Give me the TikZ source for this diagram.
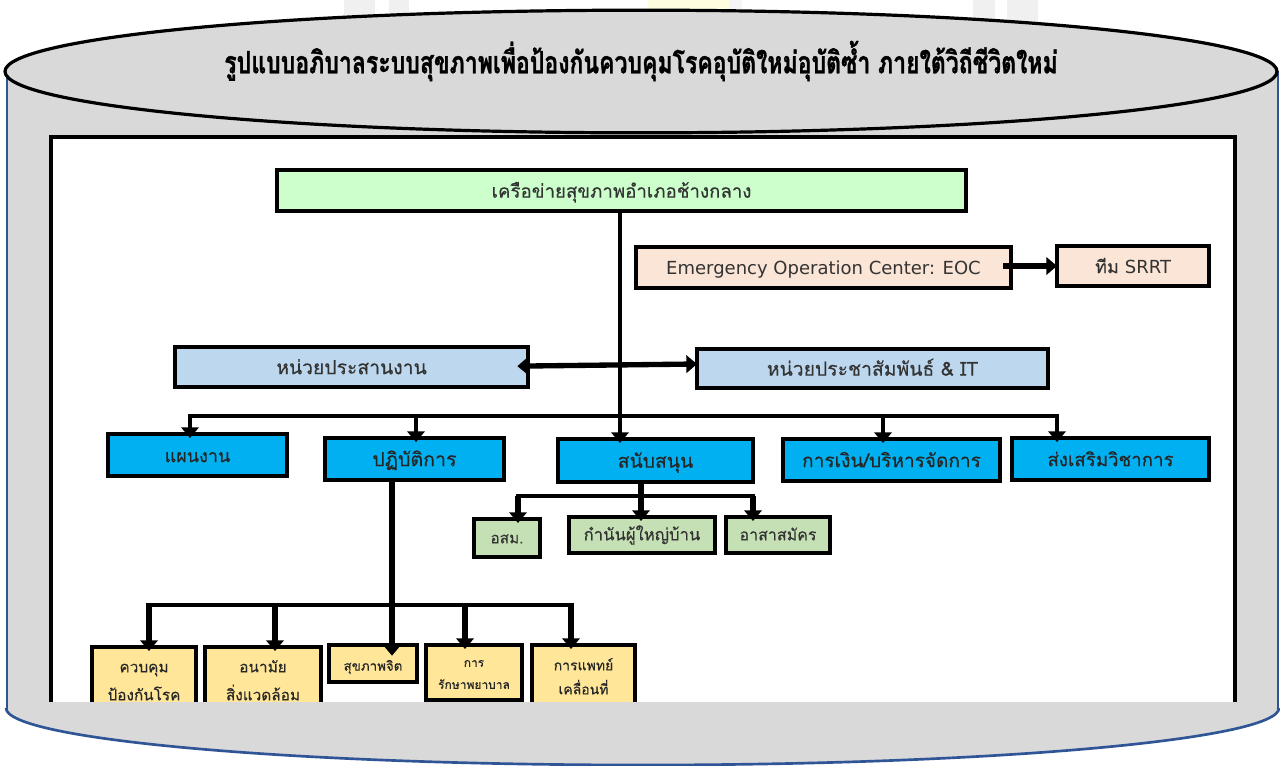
\documentclass[tikz,border=0pt]{standalone}
\usepackage{fontspec}
\setmainfont[Script=Thai,FakeBold=0.3,BoldFeatures={FakeBold=1.2}]{Loma}
\newfontfamily\latinfont{DejaVu Sans}
\usetikzlibrary{arrows.meta,shapes.geometric}
\definecolor{cylgray}{HTML}{D9D9D9}
\definecolor{cylblue}{HTML}{2F5597}
\definecolor{topgreen}{HTML}{CCFFCC}
\definecolor{peach}{HTML}{FBE5D6}
\definecolor{lightblue}{HTML}{BDD7EE}
\definecolor{cyanbox}{HTML}{00B0F0}
\definecolor{sage}{HTML}{C5E0B4}
\definecolor{sand}{HTML}{FFE699}
\definecolor{txtgray}{HTML}{333333}
\tikzset{
  orgbox/.style={draw=black,line width=3pt,rectangle,inner sep=0pt,outer sep=0pt,align=center},
  link/.style={draw=black,line width=#1,line cap=butt},
  link/.default=3.6pt,
  tiplink/.style={link=#1,-{Triangle[length=8pt,width=13pt]},shorten >=-3pt},
  tiplink/.default=3.6pt,
  f/.style={font=\fontsize{#1pt}{#1pt}\selectfont},
}
\newcommand{\dn}[1]{\raisebox{-5.4pt}[0pt][0pt]{#1}}
\newcommand{\dnb}[1]{\raisebox{-4pt}[0pt][0pt]{#1}}
% name, style, x1, y1, x2, y2, text (outer edges, in px)
\newcommand{\pxbox}[7]{%
  \pgfmathsetmacro{\bxw}{(#5-#3-4)*0.75}%
  \pgfmathsetmacro{\bxh}{(#6-#4-4)*0.75}%
  \pgfmathsetmacro{\bxx}{(#3+#5)/2}%
  \pgfmathsetmacro{\bxy}{(#4+#6)/2}%
  \node[orgbox,#2,minimum width=\bxw pt,minimum height=\bxh pt] (#1) at (\bxx,\bxy) {#7};%
}
\begin{document}
\begin{tikzpicture}[x=0.75pt,y=-0.75pt]
\useasboundingbox (0,0) rectangle (1280,765);
\clip (0,0) rectangle (1280,765);
% faint page watermark above the cylinder
\fill[black!6] (344,0) rectangle (375,30);
\fill[black!6] (389,0) rectangle (409,30);
\fill[yellow!12] (648,0) rectangle (729,30);
\fill[black!4] (729,0) rectangle (742,30);
\fill[black!6] (973,0) rectangle (995,30);
\fill[black!6] (1007,0) rectangle (1038,30);
% cylinder body
\fill[cylgray] (7,71) rectangle (1278,708);
\draw[cylblue,line width=2pt] (7,71) -- (7,708);
\draw[cylblue,line width=2pt] (1278,71) -- (1278,708);
% inner frame
\fill[white] (51,137) rectangle (1235,702);
\draw[black,line width=2.4pt] (51,702) -- (51,137) -- (1235,137) -- (1235,702);
% boxes
\pxbox{net}{fill=topgreen,text=txtgray,f=14}{275}{168}{968}{213}{\dn{เครือข่ายสุขภาพอำเภอช้างกลาง}}
\pxbox{eoc}{fill=peach,text=txtgray,f=13.5}{634}{245}{1013}{290}{\dn{\latinfont Emergency Operation Center: EOC}}
\pxbox{srrt}{fill=peach,text=txtgray,f=13.5}{1055}{244}{1211}{288}{\dn{ทีม {\latinfont SRRT}}}
\pxbox{coord}{fill=lightblue,text=txtgray,f=14.5}{173}{345}{530}{389}{\dn{หน่วยประสานงาน}}
\pxbox{pr}{fill=lightblue,text=txtgray,f=14.5}{695}{347}{1050}{390}{\dn{หน่วยประชาสัมพันธ์ \& IT}}
\pxbox{plan}{fill=cyanbox,text=black!85,f=13.5}{106}{432}{289}{478}{\dn{แผนงาน}}
\pxbox{ops}{fill=cyanbox,text=black!85,f=14.7}{323}{436}{506}{482}{\dn{ปฏิบัติการ}}
\pxbox{sup}{fill=cyanbox,text=black!85,f=14.5}{556}{437}{755}{484}{\dn{สนับสนุน}}
\pxbox{fin}{fill=cyanbox,text=black!85,f=14.3}{781}{437}{1002}{483}{\dn{การเงิน/บริหารจัดการ}}
\pxbox{aca}{fill=cyanbox,text=black!85,f=14}{1010}{436}{1211}{482}{\dn{ส่งเสริมวิชาการ}}
\pxbox{vhv}{fill=sage,text=txtgray,f=11.5}{472}{517}{542}{559}{\dnb{อสม.}}
\pxbox{chief}{fill=sage,text=txtgray,f=12.5}{567}{515}{717}{555}{\dnb{กำนันผู้ใหญ่บ้าน}}
\pxbox{vol}{fill=sage,text=txtgray,f=12}{724}{515}{832}{555}{\dnb{อาสาสมัคร}}
\pxbox{ctrl}{fill=sand,text=black!85,font=\fontsize{11.5pt}{21pt}\selectfont}{90}{645}{198}{717}{\dnb{ควบคุม}\\ \dnb{ป้องกันโรค}}
\pxbox{env}{fill=sand,text=black!85,font=\fontsize{11.5pt}{21pt}\selectfont}{203}{645}{323}{717}{\dnb{อนามัย}\\ \dnb{สิ่งแวดล้อม}}
\pxbox{mind}{fill=sand,text=black!85,f=10}{327}{643}{419}{684}{\dn{สุขภาพจิต}}
\pxbox{care}{fill=sand,text=black!85,font=\fontsize{9pt}{16.5pt}\selectfont}{424}{643}{524}{702}{\dnb{การ}\\ \dnb{รักษาพยาบาล}}
\pxbox{mobile}{fill=sand,text=black!85,font=\fontsize{10.5pt}{18pt}\selectfont}{530}{643}{637}{711}{\dnb{การแพทย์}\\ \dnb{เคลื่อนที่}}
% connector junctions
\coordinate (busL) at (190,416);
\coordinate (busR) at (1057,416);
\coordinate (b2) at (416,416);
\coordinate (b3) at (620,416);
\coordinate (b4) at (883,416);
\coordinate (sL) at (518,496);
\coordinate (sR) at (753,496);
\coordinate (sM) at (641,496);
\coordinate (yL) at (149,605);
\coordinate (yR) at (571,605);
\coordinate (y2) at (275,605);
\coordinate (y3) at (392,605);
\coordinate (y4) at (465,605);
% connectors
\draw[tiplink=3.2pt] (net.south -| b3) -- (b3 |- sup.north);
\draw[link=4pt,{Triangle[length=8pt,width=13pt]}-{Triangle[length=8pt,width=13pt]},shorten <=-8pt] (coord.east |- 0,366) -- (pr.west |- 0,364);
\draw[link=4pt,-{Triangle[length=8pt,width=13pt]},shorten <=-6pt] (eoc.east |- 0,266) -- (srrt.west |- 0,266);
\draw[link=3.6pt] ([xshift=-1.35pt]busL) -- ([xshift=1.35pt]busR);
\draw[tiplink] (busL) -- (busL |- plan.north);
\draw[tiplink] (b2) -- (b2 |- ops.north);
\draw[tiplink] (b4) -- (b4 |- fin.north);
\draw[tiplink] (busR) -- (busR |- aca.north);
\draw[link=3.6pt] ([xshift=-1.35pt]sL) -- ([xshift=1.35pt]sR);
\draw[tiplink=4pt] (sup.south -| sM) -- (sM |- chief.north);
\draw[tiplink=4pt] (sL) -- (sL |- vhv.north);
\draw[tiplink=4pt] (sR) -- (sR |- vol.north);
\draw[link=3.6pt] ([xshift=-2pt]yL) -- ([xshift=2pt]yR);
\draw[link=5pt,-{Triangle[length=8pt,width=13pt]},shorten >=-8pt] (ops.south -| y3) -- (y3 |- mind.north);
\draw[tiplink=5pt] (yL) -- (yL |- ctrl.north);
\draw[tiplink=5pt] (y2) -- (y2 |- env.north);
\draw[tiplink=5pt] (y4) -- (y4 |- care.north);
\draw[tiplink=5pt] (yR) -- (yR |- mobile.north);
% cylinder bottom, covering the foot of the frame
\fill[white] (0,702) rectangle (1280,765);
\fill[cylgray] (6,702) rectangle (1279,708);
\fill[cylgray] (6,708) arc[start angle=180,end angle=0,x radius=636.5,y radius=57] -- cycle;
\draw[cylblue,line width=2pt] (6,708) arc[start angle=180,end angle=0,x radius=636.5,y radius=57];
\draw[cylblue,line width=2pt] (7,702) -- (7,710);
\draw[cylblue,line width=2pt] (1278,702) -- (1278,710);
% cylinder top
\node[ellipse,draw=black,line width=2.4pt,fill=cylgray,minimum width=954pt,minimum height=92pt,inner sep=0pt,outer sep=0pt] (lid) at (641,71.5) {};
\node[font=\bfseries\fontsize{20pt}{22pt}\selectfont,text=black,inner sep=0pt] (title) at (641,61) {\scalebox{0.863}[1.15]{รูปแบบอภิบาลระบบสุขภาพเพื่อป้องกันควบคุมโรคอุบัติใหม่อุบัติซ้ำ ภายใต้วิถีชีวิตใหม่}};
\end{tikzpicture}
\end{document}
